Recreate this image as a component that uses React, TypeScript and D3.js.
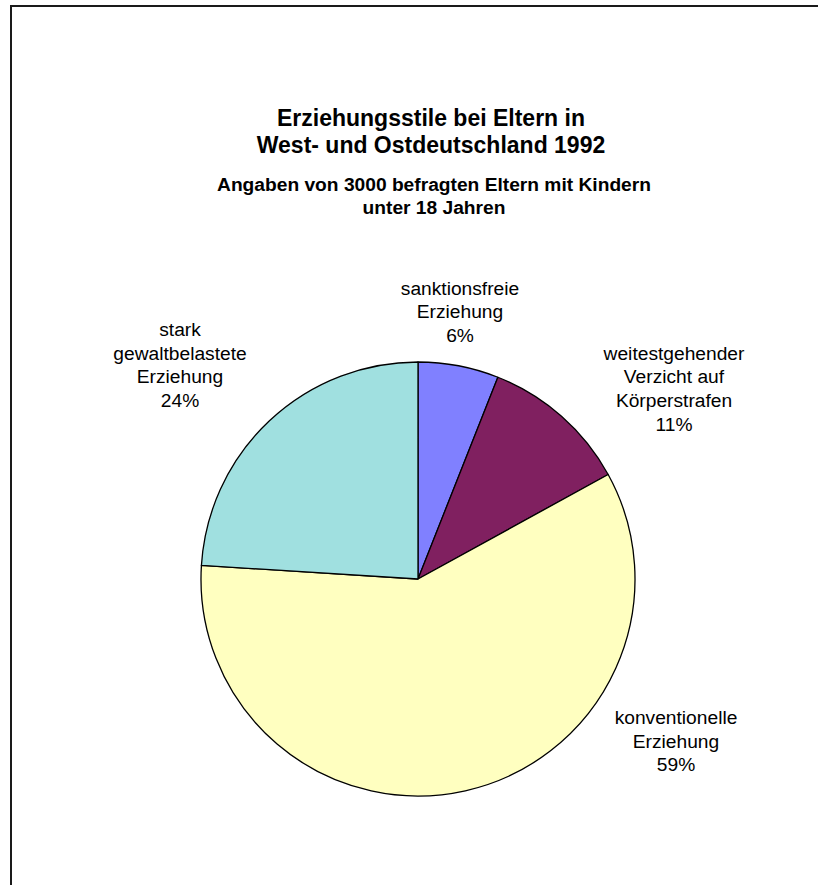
import * as d3 from 'd3';
import React from 'react';

// Erziehungsstile 1992 – shares in percent, clockwise from 12 o'clock
const categories = [
  ['sanktionsfreie', 'Erziehung'],
  ['weitestgehender', 'Verzicht auf', 'Körperstrafen'],
  ['konventionelle', 'Erziehung'],
  ['stark', 'gewaltbelastete', 'Erziehung'],
];
const values = [6, 11, 59, 24];
const colors = ['#8080FF', '#802060', '#FFFFC0', '#A0E0E0'];

const titleLines = ['Erziehungsstile bei Eltern in', 'West- und Ostdeutschland 1992'];
const subtitleLines = ['Angaben von 3000 befragten Eltern mit Kindern', 'unter 18 Jahren'];

// label anchor (first baseline) relative to the pie centre
const labelOffsets: [number, number][] = [
  [42, -284.5],
  [256, -219.5],
  [258, 145],
  [-238, -243],
];

const App: React.FC = () => {
  const width = 818;
  const height = 885;
  const cx = 418;
  const cy = 579;
  const radius = 217;
  const lineH = 23.7;
  const font = '"Liberation Sans", Arial, Helvetica, sans-serif';

  const pie = d3.pie<number>().sort(null).value(d => d);
  const arcs = pie(values);
  const arc = d3.arc<d3.PieArcDatum<number>>().innerRadius(0).outerRadius(radius);

  return (
    <div style={{ position: 'absolute', left: 0, top: 0 }}>
      <svg width={width} height={height} style={{ display: 'block', background: '#fff' }}>
        <rect x={11} y={6} width={900} height={950} fill="#fff" stroke="#1a1a1a" strokeWidth={2} />

        <g fontFamily={font} fontWeight="bold" fill="#000" textAnchor="middle">
          {titleLines.map((t, i) => (
            <text key={t} x={431} y={126 + i * 26.5} fontSize={23}>{t}</text>
          ))}
          {subtitleLines.map((t, i) => (
            <text key={t} x={434} y={190.5 + i * 23.5} fontSize={19.2}>{t}</text>
          ))}
        </g>

        <g transform={`translate(${cx},${cy})`}>
          {arcs.map((a, i) => (
            <path key={i} d={arc(a) || ''} fill={colors[i]} stroke="#000" strokeWidth={1.3} strokeLinejoin="round" />
          ))}
        </g>

        <g fontFamily={font} fontSize={19.2} fill="#000" textAnchor="middle">
          {arcs.map((a, i) => {
            const [dx, dy] = labelOffsets[i];
            const lines = [...categories[i], `${values[i]}%`];
            return (
              <text key={i} x={cx + dx} y={cy + dy}>
                {lines.map((l, j) => (
                  <tspan key={j} x={cx + dx} y={cy + dy + j * lineH}>{l}</tspan>
                ))}
              </text>
            );
          })}
        </g>
      </svg>
    </div>
  );
};

export default App;
